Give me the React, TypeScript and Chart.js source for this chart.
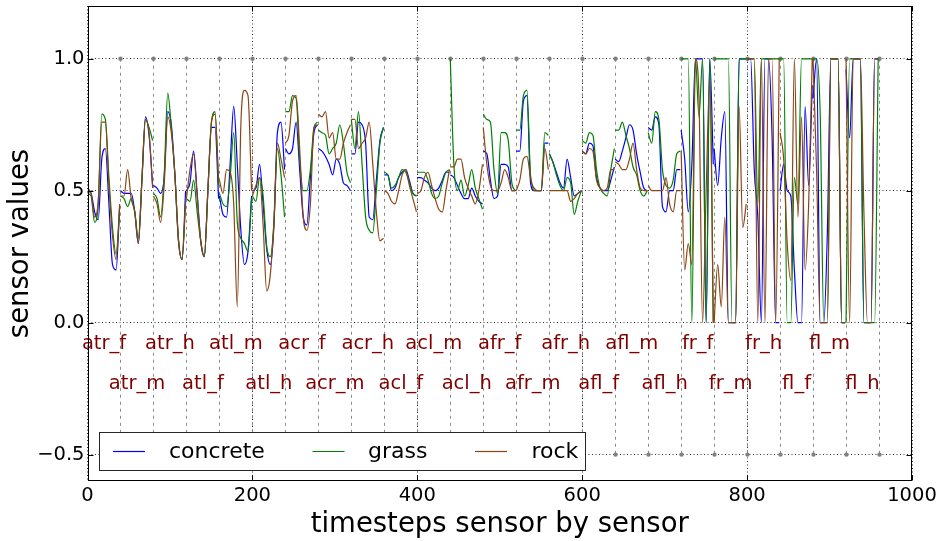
import React, { useEffect, useRef } from "react";
import { Chart, registerables } from "chart.js";

Chart.register(...registerables);

const SENSORS = [
  "atr_f", "atr_m", "atr_h", "atl_f", "atl_m", "atl_h",
  "acr_f", "acr_m", "acr_h", "acl_f", "acl_m", "acl_h",
  "afr_f", "afr_m", "afr_h", "afl_f", "afl_m", "afl_h",
  "fr_f", "fr_m", "fr_h", "fl_f", "fl_m", "fl_h",
];
const STEPS_PER_SENSOR = 40;
const SAMPLES_PER_SENSOR = 10;
const X_TICKS = [0, 200, 400, 600, 800, 1000];
const Y_TICKS = [-0.5, 0, 0.5, 1.0];
const LABEL_ROWS = [-0.1, -0.25];
const MARKER_LEVELS = [1.0, -0.5];
const SERIES_NAMES = ["concrete", "grass", "rock"];
const SERIES_COLORS = ["#0000ff", "#008000", "#8b4513"];

const concrete = [
  0.50, 0.49, 0.42, 0.39, 0.62, 0.66, 0.45, 0.22, 0.20, 0.44,
  0.50, 0.49, 0.49, 0.49, 0.42, 0.30, 0.54, 0.78, 0.71, 0.52,
  0.52, 0.51, 0.49, 0.55, 0.80, 0.75, 0.56, 0.31, 0.24, 0.50,
  0.50, 0.53, 0.65, 0.49, 0.31, 0.25, 0.50, 0.74, 0.74, 0.47,
  0.48, 0.41, 0.40, 0.60, 0.82, 0.60, 0.35, 0.22, 0.27, 0.48,
  0.50, 0.51, 0.60, 0.45, 0.28, 0.22, 0.36, 0.72, 0.76, 0.58,
  0.66, 0.64, 0.66, 0.76, 0.58, 0.40, 0.37, 0.55, 0.72, 0.75,
  0.66, 0.65, 0.63, 0.60, 0.56, 0.62, 0.60, 0.53, 0.52, 0.50,
  0.64, 0.64, 0.76, 0.75, 0.68, 0.40, 0.39, 0.54, 0.69, 0.74,
  0.56, 0.56, 0.50, 0.51, 0.55, 0.57, 0.58, 0.54, 0.49, 0.48,
  0.55, 0.55, 0.54, 0.53, 0.51, 0.50, 0.51, 0.54, 0.57, 0.57,
  0.56, 0.55, 0.52, 0.49, 0.47, 0.47, 0.51, 0.48, 0.46, 0.45,
  0.65, 0.64, 0.54, 0.47, 0.48, 0.60, 0.60, 0.59, 0.50, 0.50,
  0.65, 0.65, 0.84, 0.86, 0.53, 0.50, 0.50, 0.50, 0.68, 0.68,
  0.64, 0.61, 0.57, 0.53, 0.51, 0.62, 0.55, 0.48, 0.49, 0.50,
  0.65, 0.64, 0.68, 0.67, 0.55, 0.51, 0.50, 0.50, 0.54, 0.59,
  0.62, 0.61, 0.65, 0.70, 0.75, 0.73, 0.64, 0.57, 0.51, 0.50,
  0.74, 0.73, 0.78, 0.75, 0.44, 0.42, 0.50, 0.50, 0.58, 0.58,
  0.73, 0.62, 0.42, 0.60, 1.00, 1.00, 1.00, 0.00, 1.00, 0.60,
  0.66, 0.52, 0.70, 0.80, 0.00, 0.00, 0.00, 1.00, 1.00, 1.00,
  1.00, 1.00, 0.58, 0.40, 0.00, 1.00, 1.00, 0.70, 0.00, 0.00,
  0.50, 0.60, 0.50, 0.48, 0.20, 0.00, 0.00, 0.82, 0.52, 0.90,
  0.85, 1.00, 0.00, 0.00, 0.34, 1.00, 1.00, 1.00, 0.00, 0.00,
  0.96, 0.70, 1.00, 1.00, 1.00, 0.00, 0.00, 0.00, 1.00, 1.00,
];

const grass = [
  0.49, 0.48, 0.38, 0.45, 0.79, 0.77, 0.55, 0.36, 0.26, 0.42,
  0.48, 0.47, 0.44, 0.47, 0.42, 0.32, 0.54, 0.77, 0.74, 0.69,
  0.49, 0.47, 0.40, 0.56, 0.87, 0.74, 0.56, 0.32, 0.24, 0.46,
  0.47, 0.46, 0.54, 0.42, 0.31, 0.25, 0.50, 0.76, 0.80, 0.52,
  0.49, 0.45, 0.44, 0.55, 0.72, 0.38, 0.32, 0.30, 0.27, 0.47,
  0.48, 0.46, 0.55, 0.48, 0.29, 0.25, 0.37, 0.66, 0.56, 0.40,
  0.80, 0.80, 0.86, 0.85, 0.62, 0.50, 0.50, 0.58, 0.74, 0.76,
  0.73, 0.72, 0.71, 0.64, 0.66, 0.68, 0.75, 0.68, 0.57, 0.53,
  0.77, 0.66, 0.80, 0.60, 0.40, 0.35, 0.34, 0.50, 0.68, 0.74,
  0.57, 0.56, 0.51, 0.52, 0.55, 0.58, 0.57, 0.53, 0.49, 0.48,
  0.57, 0.57, 0.57, 0.54, 0.49, 0.47, 0.48, 0.53, 0.57, 0.58,
  1.00, 0.60, 0.50, 0.54, 0.48, 0.52, 0.58, 0.51, 0.47, 0.43,
  0.79, 0.77, 0.76, 0.58, 0.49, 0.72, 0.72, 0.69, 0.53, 0.50,
  0.73, 0.73, 0.86, 0.88, 0.56, 0.51, 0.50, 0.50, 0.72, 0.71,
  0.64, 0.61, 0.56, 0.52, 0.50, 0.55, 0.53, 0.41, 0.46, 0.50,
  0.69, 0.68, 0.72, 0.71, 0.58, 0.51, 0.49, 0.48, 0.58, 0.66,
  0.73, 0.73, 0.76, 0.71, 0.66, 0.59, 0.56, 0.50, 0.48, 0.50,
  0.72, 0.68, 0.80, 0.77, 0.58, 0.52, 0.51, 0.54, 0.64, 0.65,
  1.00, 1.00, 1.00, 0.00, 1.00, 0.78, 1.00, 0.00, 1.00, 0.00,
  1.00, 1.00, 1.00, 1.00, 1.00, 0.00, 0.00, 1.00, 1.00, 1.00,
  1.00, 1.00, 1.00, 0.45, 1.00, 1.00, 1.00, 1.00, 1.00, 1.00,
  1.00, 1.00, 0.00, 0.00, 0.55, 0.45, 1.00, 1.00, 1.00, 1.00,
  1.00, 1.00, 0.79, 0.00, 0.00, 1.00, 1.00, 1.00, 0.00, 0.00,
  0.00, 1.00, 1.00, 1.00, 1.00, 0.00, 0.00, 0.00, 0.00, 1.00,
];

const rock = [
  0.51, 0.49, 0.40, 0.46, 0.76, 0.76, 0.52, 0.33, 0.24, 0.45,
  0.48, 0.48, 0.58, 0.47, 0.42, 0.30, 0.54, 0.77, 0.72, 0.51,
  0.48, 0.45, 0.38, 0.52, 0.78, 0.72, 0.56, 0.31, 0.24, 0.46,
  0.47, 0.58, 0.64, 0.48, 0.31, 0.25, 0.50, 0.76, 0.79, 0.54,
  0.54, 0.49, 0.58, 0.57, 0.45, 0.06, 0.75, 0.88, 0.86, 0.50,
  0.48, 0.52, 0.55, 0.37, 0.12, 0.18, 0.38, 0.68, 0.62, 0.55,
  0.68, 0.71, 0.84, 0.86, 0.66, 0.40, 0.35, 0.45, 0.74, 0.75,
  0.79, 0.78, 0.80, 0.70, 0.72, 0.62, 0.62, 0.68, 0.72, 0.75,
  0.77, 0.77, 0.66, 0.68, 0.70, 0.76, 0.60, 0.42, 0.31, 0.32,
  0.50, 0.49, 0.46, 0.45, 0.50, 0.56, 0.58, 0.52, 0.47, 0.42,
  0.49, 0.50, 0.55, 0.57, 0.52, 0.47, 0.43, 0.42, 0.50, 0.58,
  0.59, 0.59, 0.62, 0.62, 0.55, 0.51, 0.48, 0.45, 0.50, 0.60,
  0.74, 0.60, 0.52, 0.50, 0.50, 0.53, 0.58, 0.55, 0.50, 0.50,
  0.50, 0.54, 0.62, 0.63, 0.55, 0.50, 0.50, 0.50, 0.66, 0.58,
  0.50, 0.50, 0.50, 0.50, 0.50, 0.50, 0.46, 0.47, 0.49, 0.50,
  0.65, 0.64, 0.66, 0.65, 0.54, 0.51, 0.50, 0.51, 0.58, 0.58,
  0.61, 0.60, 0.58, 0.58, 0.62, 0.68, 0.58, 0.51, 0.50, 0.50,
  0.52, 0.50, 0.50, 0.50, 0.50, 0.55, 0.45, 0.42, 0.50, 0.50,
  0.65, 0.20, 0.30, 0.22, 1.00, 0.85, 0.00, 0.50, 0.92, 0.00,
  0.00, 0.22, 0.06, 0.40, 0.00, 0.00, 0.00, 0.82, 0.36, 0.45,
  1.00, 1.00, 1.00, 0.00, 1.00, 0.00, 1.00, 1.00, 0.00, 1.00,
  0.72, 0.62, 0.30, 0.16, 1.00, 0.40, 0.78, 0.20, 0.45, 1.00,
  1.00, 0.57, 0.00, 0.00, 0.00, 1.00, 1.00, 1.00, 0.00, 0.00,
  1.00, 0.00, 1.00, 1.00, 1.00, 0.42, 0.00, 0.00, 1.00, 1.00,
];

const SERIES_VALUES = [concrete, grass, rock];

const FONT = "'DejaVu Sans', 'Liberation Sans', sans-serif";

function toPoints(values: number[]) {
  const pts: { x: number; y: number | null }[] = [];
  SENSORS.forEach((_, s) => {
    for (let j = 0; j < SAMPLES_PER_SENSOR; j++) {
      pts.push({
        x: s * STEPS_PER_SENSOR + (j * (STEPS_PER_SENSOR - 1)) / (SAMPLES_PER_SENSOR - 1),
        y: values[s * SAMPLES_PER_SENSOR + j],
      });
    }
    pts.push({ x: s * STEPS_PER_SENSOR + STEPS_PER_SENSOR - 0.5, y: null });
  });
  return pts;
}

function fmtY(v: number) {
  const s = Math.abs(v).toFixed(1);
  return v < 0 ? "\u2212" + s : s;
}

const decorPlugin = {
  id: "decor",
  beforeDatasetsDraw(chart: any) {
    const { ctx, scales } = chart;
    const x = scales.x;
    const y = scales.y;
    ctx.save();
    const yTop = y.getPixelForValue(MARKER_LEVELS[0]);
    const yBot = y.getPixelForValue(MARKER_LEVELS[1]);
    ctx.strokeStyle = "rgba(110,110,110,0.8)";
    ctx.lineWidth = 1;
    ctx.setLineDash([3, 4]);
    for (let k = 1; k <= SENSORS.length; k++) {
      const px = Math.round(x.getPixelForValue(k * STEPS_PER_SENSOR)) + 0.5;
      ctx.beginPath();
      ctx.moveTo(px, yTop);
      ctx.lineTo(px, yBot);
      ctx.stroke();
    }
    ctx.setLineDash([]);
    ctx.fillStyle = "#808080";
    for (let k = 1; k <= SENSORS.length; k++) {
      const px = Math.round(x.getPixelForValue(k * STEPS_PER_SENSOR)) + 0.5;
      for (const lv of MARKER_LEVELS) {
        ctx.beginPath();
        ctx.arc(px, y.getPixelForValue(lv), 2.2, 0, Math.PI * 2);
        ctx.fill();
      }
    }
    ctx.restore();
  },
  afterDraw(chart: any) {
    const { ctx, chartArea: a, scales } = chart;
    const x = scales.x;
    const y = scales.y;
    ctx.save();
    ctx.fillStyle = "#800000";
    ctx.font = `19.5px ${FONT}`;
    ctx.textAlign = "center";
    ctx.textBaseline = "alphabetic";
    SENSORS.forEach((name, s) => {
      ctx.fillText(
        name,
        x.getPixelForValue(s * STEPS_PER_SENSOR + STEPS_PER_SENSOR / 2),
        y.getPixelForValue(LABEL_ROWS[s % 2])
      );
    });
    const L = Math.round(a.left) + 0.5;
    const R = Math.round(a.right) - 0.5;
    const T = Math.round(a.top) + 0.5;
    const B = Math.round(a.bottom) - 0.5;
    ctx.strokeStyle = "#000";
    ctx.lineWidth = 1;
    ctx.strokeRect(L, T, R - L, B - T);
    const tl = 5;
    ctx.beginPath();
    for (const v of Y_TICKS) {
      const py = Math.round(y.getPixelForValue(v)) + 0.5;
      ctx.moveTo(L, py); ctx.lineTo(L + tl, py);
      ctx.moveTo(R, py); ctx.lineTo(R - tl, py);
    }
    for (const v of X_TICKS) {
      const px = Math.round(x.getPixelForValue(v)) + 0.5;
      ctx.moveTo(px, B); ctx.lineTo(px, B - tl);
      ctx.moveTo(px, T); ctx.lineTo(px, T + tl);
    }
    ctx.stroke();
    const lx = Math.round(a.left + 11) + 0.5;
    const ly = 432.5;
    const lw = 486;
    const lh = 38;
    ctx.fillStyle = "#fff";
    ctx.fillRect(lx, ly, lw, lh);
    ctx.strokeStyle = "rgba(0,0,0,0.85)";
    ctx.strokeRect(lx, ly, lw, lh);
    const lineStarts = [113, 312.5, 475];
    const textStarts = [169, 368, 531.5];
    const cy = ly + lh / 2;
    ctx.font = `22px ${FONT}`;
    ctx.textAlign = "left";
    ctx.textBaseline = "middle";
    SERIES_NAMES.forEach((name, i) => {
      ctx.strokeStyle = SERIES_COLORS[i];
      ctx.lineWidth = 1.2;
      ctx.beginPath();
      ctx.moveTo(lineStarts[i], cy);
      ctx.lineTo(lineStarts[i] + 32, cy);
      ctx.stroke();
      ctx.fillStyle = "#000";
      ctx.fillText(name, textStarts[i], cy + 1);
    });
    ctx.restore();
  },
};

export default function App() {
  const ref = useRef<HTMLCanvasElement | null>(null);
  useEffect(() => {
    document.body.style.margin = "0";
    const canvas = ref.current;
    if (!canvas) return;
    const chart = new Chart(canvas, {
      type: "line",
      data: {
        datasets: SERIES_NAMES.map((name, i) => ({
          label: name,
          data: toPoints(SERIES_VALUES[i]),
          borderColor: SERIES_COLORS[i],
          backgroundColor: SERIES_COLORS[i],
          borderWidth: 1.2,
          pointRadius: 0,
          cubicInterpolationMode: "monotone",
          spanGaps: false,
          order: SERIES_NAMES.length - 1 - i,
        })),
      },
      options: {
        animation: false,
        responsive: false,
        maintainAspectRatio: false,
        layout: { padding: { left: 0, right: 27, top: 6, bottom: 0 } },
        plugins: { legend: { display: false }, tooltip: { enabled: false } },
        scales: {
          x: {
            type: "linear",
            min: 0,
            max: 1000,
            afterBuildTicks: (s: any) => {
              s.ticks = X_TICKS.map((v) => ({ value: v }));
            },
            afterFit: (s: any) => {
              s.height = 60;
              s.paddingLeft = 0;
              s.paddingRight = 0;
            },
            grid: { color: "rgba(0,0,0,0.8)", lineWidth: 1, drawTicks: false },
            border: { display: false, dash: [1, 2.5] },
            ticks: {
              padding: 3,
              color: "#000",
              maxRotation: 0,
              autoSkip: false,
              font: { family: FONT, size: 19.5 },
              callback: (v: any) => String(v),
            },
            title: {
              display: true,
              text: "timesteps sensor by sensor",
              color: "#000",
              font: { family: FONT, size: 27.5 },
              padding: { top: 0, bottom: 0 },
            },
          },
          y: {
            type: "linear",
            min: -0.6,
            max: 1.2,
            afterBuildTicks: (s: any) => {
              s.ticks = Y_TICKS.map((v) => ({ value: v }));
            },
            afterFit: (s: any) => {
              s.width = 87.5;
              s.paddingTop = 0;
              s.paddingBottom = 0;
            },
            grid: { color: "rgba(0,0,0,0.8)", lineWidth: 1, drawTicks: false },
            border: { display: false, dash: [1, 2.5] },
            ticks: {
              padding: 3,
              color: "#000",
              autoSkip: false,
              font: { family: FONT, size: 19.5 },
              callback: (v: any) => fmtY(Number(v)),
            },
            title: {
              display: true,
              text: "sensor values",
              color: "#000",
              font: { family: FONT, size: 27.5 },
              padding: { top: 4, bottom: 0 },
            },
          },
        },
      },
      plugins: [decorPlugin],
    } as any);
    return () => chart.destroy();
  }, []);
  return (
    <canvas
      ref={ref}
      width={939}
      height={541}
      style={{ display: "block", width: 939, height: 541 }}
    />
  );
}
